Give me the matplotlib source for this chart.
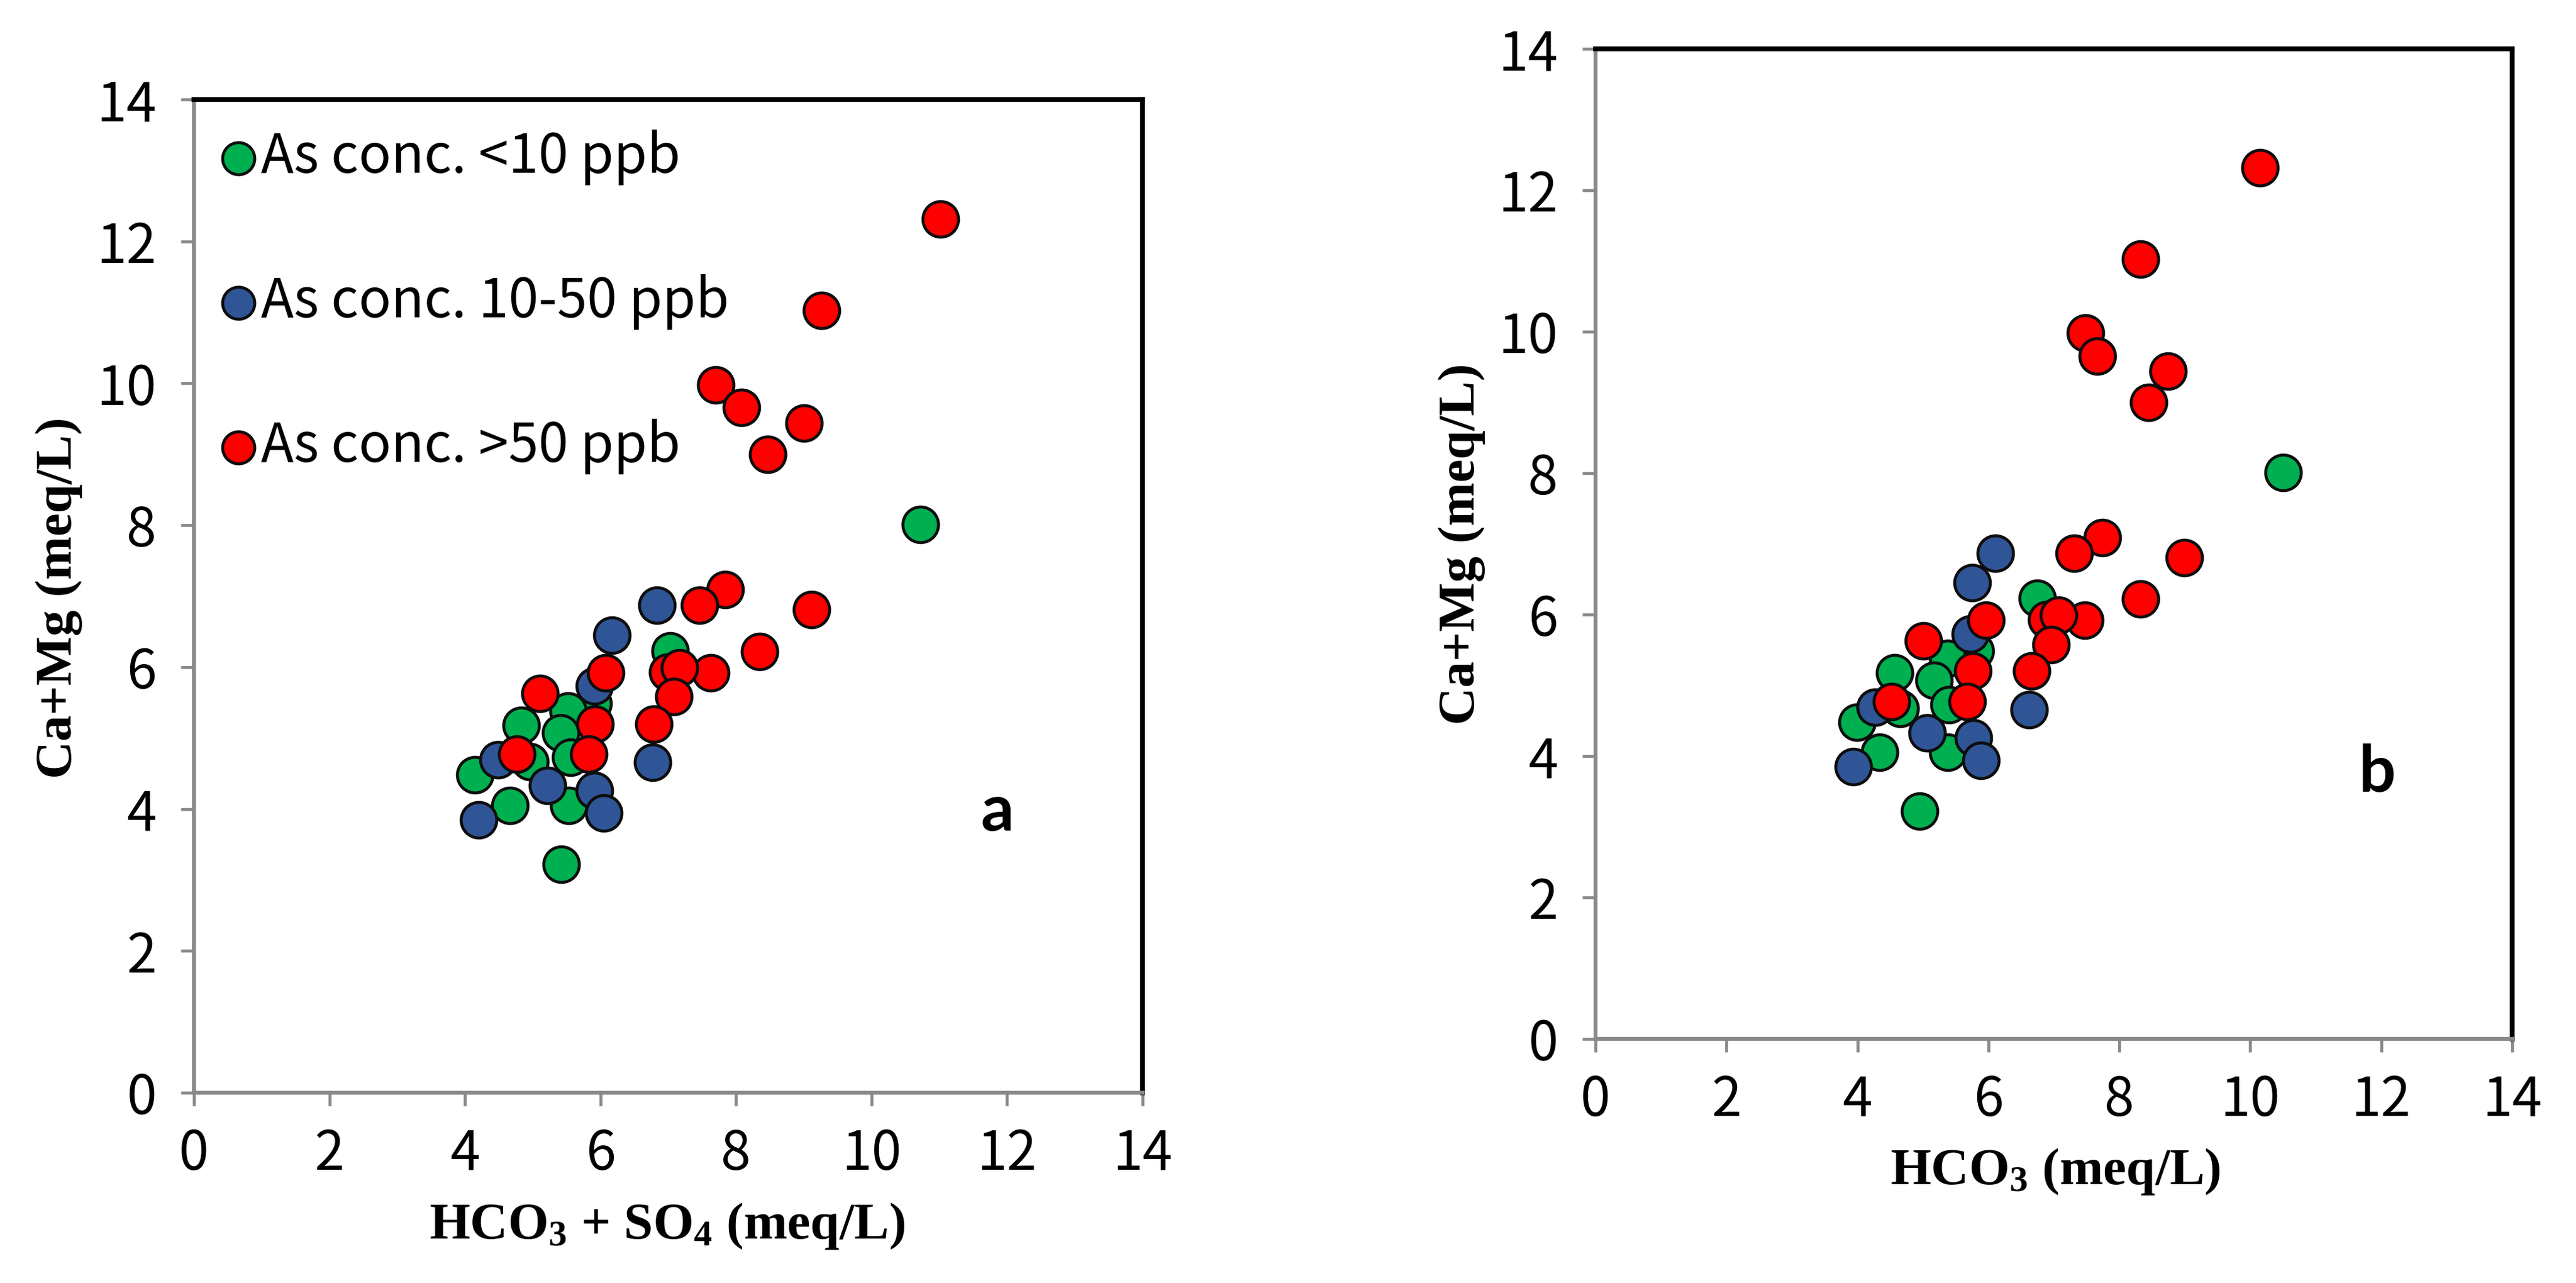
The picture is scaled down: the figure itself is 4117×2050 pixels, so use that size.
import matplotlib
matplotlib.use('Agg')
import matplotlib.pyplot as plt

plt.rcParams['mathtext.fontset'] = 'custom'
plt.rcParams['mathtext.rm'] = 'Liberation Serif:bold'
plt.rcParams['mathtext.it'] = 'Liberation Serif:bold'
plt.rcParams['mathtext.bf'] = 'Liberation Serif:bold'

# Ca+Mg (meq/L) for each group, same samples in both panels
camg_low = [8.01, 6.23, 5.49, 5.38, 5.18, 5.07, 4.73, 4.67, 4.48, 4.05, 4.05, 3.22]
camg_mid = [6.87, 6.45, 5.73, 4.69, 4.66, 4.33, 4.26, 3.94, 3.85]
camg_high = [12.32, 11.03, 9.98, 9.66, 9.44, 9.00, 7.09, 6.87, 6.81, 6.22,
             5.92, 5.93, 5.99, 5.92, 5.63, 5.58, 5.20, 5.20, 4.77, 4.77]

# HCO3 + SO4 (meq/L), panel a
hs_low = [10.72, 7.03, 5.89, 5.52, 4.83, 5.41, 5.56, 4.96, 4.15, 4.66, 5.53, 5.42]
hs_mid = [6.83, 6.17, 5.91, 4.49, 6.77, 5.22, 5.91, 6.05, 4.20]
hs_high = [11.02, 9.26, 7.70, 8.08, 9.00, 8.47, 7.84, 7.46, 9.12, 8.35,
           7.63, 6.99, 7.17, 6.08, 5.11, 7.08, 5.92, 6.79, 5.83, 4.77]

# HCO3 (meq/L), panel b
h_low = [10.50, 6.75, 5.80, 5.38, 4.57, 5.17, 5.40, 4.65, 3.99, 4.34, 5.38, 4.95]
h_mid = [6.11, 5.75, 5.72, 4.27, 6.62, 5.06, 5.77, 5.89, 3.94]
h_high = [10.15, 8.32, 7.48, 7.66, 8.74, 8.45, 7.74, 7.31, 8.99, 8.32,
          7.47, 6.89, 7.07, 5.96, 5.01, 6.96, 5.76, 6.66, 5.68, 4.52]

labels = ['As conc. <10 ppb', 'As conc. 10-50 ppb', 'As conc. >50 ppb']
colors = ['#00B050', '#2F5597', '#FF0000']
ticks = [0, 2, 4, 6, 8, 10, 12, 14]

sans = ['Noto Sans CJK SC', 'DejaVu Sans']

fig = plt.figure(figsize=(41.17, 20.5), dpi=100)
ax_a = fig.add_axes([0.0753, 0.1483, 0.3682, 0.7741])
ax_b = fig.add_axes([0.6194, 0.1902, 0.3558, 0.7717])


def style_axes(ax):
    ax.set_xlim(0, 14)
    ax.set_ylim(0, 14)
    ax.set_xticks(ticks)
    ax.set_yticks(ticks)
    for s in ['top', 'right']:
        ax.spines[s].set_color('black')
        ax.spines[s].set_linewidth(5.5)
    for s in ['left', 'bottom']:
        ax.spines[s].set_color('#898989')
        ax.spines[s].set_linewidth(4.5)
    ax.tick_params(direction='out', length=15, width=3.4, color='#898989')
    ax.tick_params(axis='x', pad=24)
    ax.tick_params(axis='y', pad=28)
    for t in ax.get_xticklabels() + ax.get_yticklabels():
        t.set_family(sans)
        t.set_weight('light')
        t.set_fontsize(62)


def draw(ax, xs):
    hs = []
    for x, y, c, lab in zip(xs, [camg_low, camg_mid, camg_high], colors, labels):
        h = ax.scatter(x, y, s=1680, c=c, edgecolors='#0D0D0D', linewidths=3.4,
                       label=lab, zorder=3, clip_on=False)
        hs.append(h)
    return hs


hs = draw(ax_a, [hs_low, hs_mid, hs_high])
draw(ax_b, [h_low, h_mid, h_high])
style_axes(ax_a)
style_axes(ax_b)

leg = ax_a.legend(handles=hs, loc='upper left', bbox_to_anchor=(0.030, 0.970),
                  frameon=False, handlelength=0.6, handletextpad=0.12,
                  labelspacing=1.65, borderpad=0, borderaxespad=0,
                  markerscale=0.9, prop={'family': sans, 'weight': 'light', 'size': 62})

ax_a.set_xlabel(r'HCO$_3$ + SO$_4$ (meq/L)', family='Liberation Serif',
                weight='bold', fontsize=60)
ax_a.set_ylabel('Ca+Mg (meq/L)', family='Liberation Serif', weight='bold', fontsize=60)
ax_a.xaxis.set_label_coords(0.499, -0.134)
ax_a.yaxis.set_label_coords(-0.1425, 0.498)
ax_a.xaxis.label.set_va('center')
ax_a.yaxis.label.set_va('center')

ax_b.set_xlabel(r'HCO$_3$ (meq/L)', family='Liberation Serif', weight='bold', fontsize=60)
ax_b.set_ylabel('Ca+Mg (meq/L)', family='Liberation Serif', weight='bold', fontsize=60)
ax_b.xaxis.set_label_coords(0.502, -0.134)
ax_b.yaxis.set_label_coords(-0.146, 0.500)
ax_b.xaxis.label.set_va('center')
ax_b.yaxis.label.set_va('center')

ax_a.text(0.847, 0.283, 'a', transform=ax_a.transAxes, family='Lato', weight='bold',
          fontsize=75, ha='center', va='center')
ax_b.text(0.853, 0.269, 'b', transform=ax_b.transAxes, family='Lato', weight='bold',
          fontsize=75, ha='center', va='center')

fig.savefig('out.png', dpi=100, facecolor='white')
